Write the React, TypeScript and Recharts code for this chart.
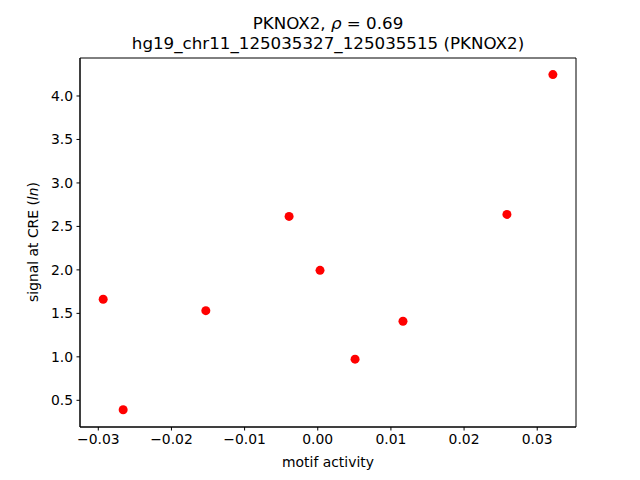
import React from 'react'
import { ScatterChart, Scatter, XAxis, YAxis, ReferenceArea } from 'recharts'

// motif activity vs signal at CRE
const motifActivity = [-0.02933, -0.0266, -0.0153, -0.00392, 0.00031, 0.0051, 0.01165, 0.02586, 0.03214]
const creSignal = [1.662, 0.391, 1.531, 2.615, 1.995, 0.973, 1.409, 2.638, 4.246]

const xTicks = [-0.03, -0.02, -0.01, 0.0, 0.01, 0.02, 0.03]
const yTicks = [0.5, 1.0, 1.5, 2.0, 2.5, 3.0, 3.5, 4.0]

const X_DOMAIN: [number, number] = [-0.0325, 0.0353]
const Y_DOMAIN: [number, number] = [0.193, 4.437]

const points = motifActivity.map((x, i) => ({ x, y: creSignal[i] }))

const FONT = '"DejaVu Sans", sans-serif'
const fmtX = (v: number) => v.toFixed(2).replace('-', '\u2212')
const fmtY = (v: number) => v.toFixed(1)

const Dot = (props: any) => <circle cx={props.cx} cy={props.cy} r={4.5} fill="#ff0000" />

export default function App() {
    return (
        <div style={{ position: 'absolute', left: 0, top: 0, width: 640, height: 480, background: '#fff', fontFamily: FONT }}>
            <ScatterChart width={640} height={480} margin={{ top: 58, right: 64, bottom: 0, left: 0 }}>
                <XAxis
                    type="number"
                    dataKey="x"
                    domain={X_DOMAIN}
                    ticks={xTicks}
                    tickFormatter={fmtX}
                    allowDataOverflow
                    height={53}
                    tickSize={3.5}
                    tickMargin={3.5}
                    stroke="#000"
                    tick={{ fill: '#000', fontSize: 13.9, fontFamily: FONT }}
                />
                <YAxis
                    type="number"
                    dataKey="y"
                    domain={Y_DOMAIN}
                    ticks={yTicks}
                    tickFormatter={fmtY}
                    allowDataOverflow
                    width={80}
                    tickSize={3.5}
                    tickMargin={3.5}
                    stroke="#000"
                    tick={{ fill: '#000', fontSize: 13.9, fontFamily: FONT }}
                />
                <ReferenceArea
                    x1={X_DOMAIN[0]}
                    x2={X_DOMAIN[1]}
                    y1={Y_DOMAIN[0]}
                    y2={Y_DOMAIN[1]}
                    fill="none"
                    fillOpacity={0}
                    stroke="#000"
                    strokeOpacity={1}
                    strokeWidth={1}
                />
                <Scatter data={points} shape={Dot} isAnimationActive={false} />
                <text x={328} y={29} textAnchor="middle" fontSize={16.7} fontFamily={FONT} fill="#000">
                    PKNOX2, <tspan fontStyle="italic">ρ</tspan> = 0.69
                </text>
                <text x={328} y={48.5} textAnchor="middle" fontSize={16.7} fontFamily={FONT} fill="#000">
                    hg19_chr11_125035327_125035515 (PKNOX2)
                </text>
                <text x={328} y={467} textAnchor="middle" fontSize={13.9} fontFamily={FONT} fill="#000">
                    motif activity
                </text>
                <text
                    x={38}
                    y={242}
                    textAnchor="middle"
                    fontSize={13.9}
                    fontFamily={FONT}
                    fill="#000"
                    transform="rotate(-90 38 242)"
                >
                    signal at CRE (<tspan fontStyle="italic">ln</tspan>)
                </text>
            </ScatterChart>
        </div>
    )
}
